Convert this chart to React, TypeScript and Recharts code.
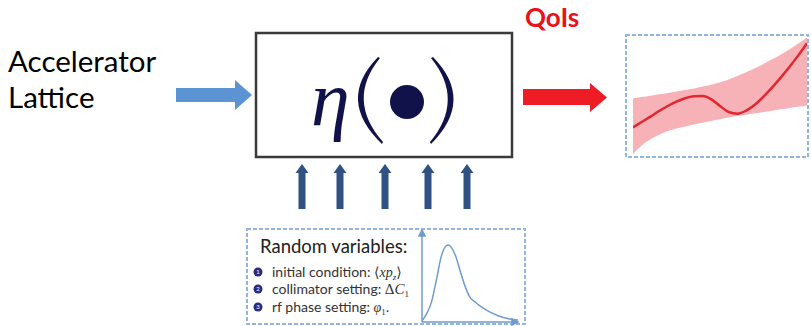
import { ComposedChart, LineChart, Area, Line, XAxis, YAxis } from 'recharts';

// QoI response: mean curve and uncertainty band, sampled on 0..10
const qoiX = [0, 0.5, 1, 1.5, 2, 2.5, 3, 3.5, 4, 4.5, 5, 5.5, 6, 6.5, 7, 7.5, 8, 8.5, 9, 9.5, 10];
const qoiMean = [24.3, 28.7, 33.1, 37.7, 41.8, 45.4, 48.1, 49.7, 50.0, 47.3, 41.8, 36.9, 35.5, 38.0, 42.9, 49.5, 57.1, 65.3, 74.0, 83.3, 93.2];
const qoiLow = [2.5, 9.5, 14.5, 18.3, 21.3, 23.4, 25.1, 26.7, 28.1, 29.5, 30.9, 32.3, 33.6, 34.7, 35.8, 36.9, 38.0, 39.1, 40.2, 41.2, 42.3];
const qoiHigh = [48.1, 49.2, 50.3, 51.4, 52.5, 53.7, 54.9, 56.2, 57.7, 59.3, 61.2, 63.6, 66.4, 69.4, 72.7, 76.3, 80.1, 84.1, 88.3, 93.0, 98.1];

// skewed density of the random inputs
const pdfX = [0, 0.5, 1, 1.5, 2, 2.5, 2.75, 3, 3.5, 4, 4.5, 5, 5.5, 6, 7, 8, 9, 10];
const pdfY = [1, 9.6, 22.6, 46.7, 72.6, 84.4, 85.5, 83.7, 73.3, 55.9, 39.3, 27.4, 22.6, 18.1, 11.5, 6.7, 3.7, 2.2];

const randomVars = ['initial condition: ', 'collimator setting: ', 'rf phase setting: '];
const inputArrows = [302, 340, 385, 428, 467];

const qoiData = qoiX.map((x, i) => ({ x, mean: qoiMean[i], band: [qoiLow[i], qoiHigh[i]] }));
const pdfData = pdfX.map((x, i) => ({ x, y: pdfY[i] }));

const SANS = 'Lato, "Open Sans", sans-serif';
const SERIF = '"Liberation Serif", "DejaVu Serif", serif';
const NAVY = '#12124a';

function MathTail({ i }: { i: number }) {
  if (i === 0)
    return (
      <tspan fontFamily={SERIF}>
        <tspan>⟨</tspan>
        <tspan fontStyle="italic">xp</tspan>
        <tspan fontStyle="italic" fontSize={9} dy={3}>z</tspan>
        <tspan dy={-3}>⟩</tspan>
      </tspan>
    );
  if (i === 1)
    return (
      <tspan fontFamily={SERIF} fontSize={15}>
        <tspan>Δ</tspan>
        <tspan fontStyle="italic">C</tspan>
        <tspan fontSize={9} dy={3}>1</tspan>
      </tspan>
    );
  return (
    <tspan fontFamily={SERIF}>
      <tspan fontStyle="italic">φ</tspan>
      <tspan fontSize={9} dy={3}>1</tspan>
      <tspan dy={-3}>.</tspan>
    </tspan>
  );
}

export default function App() {
  return (
    <div style={{ position: 'absolute', left: 0, top: 0, width: 811, height: 326, background: '#fff', overflow: 'hidden' }}>
      <svg width={811} height={326} style={{ position: 'absolute', left: 0, top: 0 }}>
        <text x={8} y={72} fontFamily={SANS} fontSize={29.5} fill="#000">Accelerator</text>
        <text x={8} y={108} fontFamily={SANS} fontSize={29.5} fill="#000">Lattice</text>

        {/* input arrow */}
        <polygon points="176,88 235,88 235,80 252,95 235,110 235,102 176,102" fill="#5b93d3" />

        {/* model box */}
        <rect x={256} y={33} width={256} height={124} fill="none" stroke="#3a3a3a" strokeWidth={2.5} />
        <text x={311} y={125} fontFamily={SERIF} fontStyle="italic" fontSize={78} fill={NAVY}>η</text>
        <path d="M378,57 Q336,100 382,144 L383,142 Q346,100 380,58 Z" fill={NAVY} />
        <circle cx={407} cy={102} r={17} fill={NAVY} />
        <path d="M433,57 Q475,100 431,144 L430,142 Q465,100 431,58 Z" fill={NAVY} />

        {/* output arrow */}
        <text x={525} y={27} fontFamily={SANS} fontWeight="bold" fontSize={26} fill="#e8111c">QoIs</text>
        <polygon points="523,89 590,89 590,83 607,97.5 590,112 590,105 523,105" fill="#ee1c24" />

        {/* QoI panel frame */}
        <rect x={626} y={35} width={182} height={122} fill="none" stroke="#92b6e3" strokeWidth={2} strokeDasharray="4 2" />

        {/* random inputs */}
        {inputArrows.map((cx) => (
          <g key={cx} fill="#2f5283">
            <rect x={cx - 3.5} y={172} width={7} height={37} />
            <polygon points={`${cx - 6.5},173 ${cx},164 ${cx + 6.5},173`} />
          </g>
        ))}

        <rect x={247} y={229} width={278} height={95} fill="none" stroke="#92b6e3" strokeWidth={2} strokeDasharray="4 2" />
        <text x={260} y={253} fontFamily={SANS} fontSize={18.5} fill="#222">Random variables:</text>
        {randomVars.map((label, i) => {
          const cy = [272, 289, 307][i];
          return (
            <g key={label}>
              <circle cx={258} cy={cy} r={4.5} fill="#2b2a7f" />
              <text x={258} y={cy + 2.2} textAnchor="middle" fontFamily={SANS} fontSize={6} fill="#fff">{i + 1}</text>
              <text x={272} y={cy + 4.5} fontFamily={SANS} fontSize={14} fill="#333">
                {label}
                <MathTail i={i} />
              </text>
            </g>
          );
        })}

        {/* density axes */}
        <g stroke="#6f9ccf" strokeWidth={1.5} fill="#6f9ccf">
          <line x1={422} y1={322} x2={422} y2={234} />
          <polygon points="419,236 422,230 425,236" />
          <line x1={422} y1={322} x2={514} y2={322} />
          <polygon points="512,319 518,322 512,325" />
        </g>
      </svg>

      <div style={{ position: 'absolute', left: 633, top: 35 }}>
        <ComposedChart width={174} height={122} data={qoiData} margin={{ top: 0, right: 0, bottom: 0, left: 0 }}>
          <XAxis dataKey="x" type="number" domain={[0, 10]} hide />
          <YAxis type="number" domain={[0, 100]} hide />
          <Area dataKey="band" type="monotone" stroke="none" fill="#f6a5ab" fillOpacity={0.85} isAnimationActive={false} />
          <Line dataKey="mean" type="monotone" stroke="#e3262f" strokeWidth={2.5} dot={false} isAnimationActive={false} />
        </ComposedChart>
      </div>

      <div style={{ position: 'absolute', left: 422, top: 232 }}>
        <LineChart width={96} height={90} data={pdfData} margin={{ top: 0, right: 0, bottom: 0, left: 0 }}>
          <XAxis dataKey="x" type="number" domain={[0, 10]} hide />
          <YAxis type="number" domain={[0, 100]} hide />
          <Line dataKey="y" type="monotone" stroke="#6f9ccf" strokeWidth={1.5} dot={false} isAnimationActive={false} />
        </LineChart>
      </div>
    </div>
  );
}
